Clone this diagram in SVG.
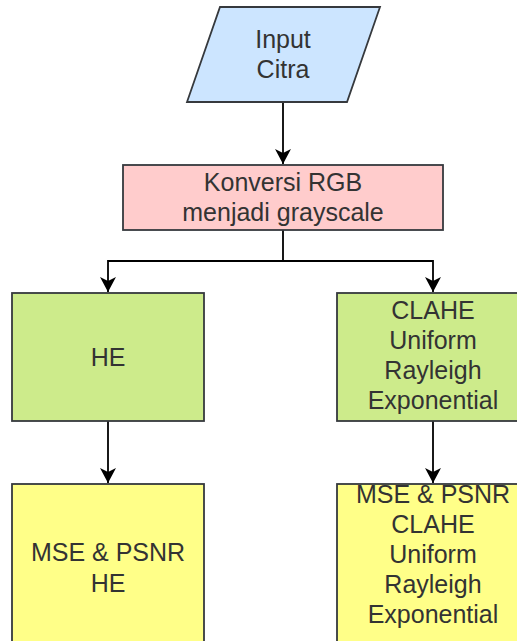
<svg xmlns="http://www.w3.org/2000/svg" width="517" height="641" viewBox="0 0 517 641">
<style>
.box{stroke:#36393d;stroke-width:1.8}
.t{font-family:"Liberation Sans",Arial,sans-serif;font-size:25px;fill:#333333;text-anchor:middle}
.c{fill:none;stroke:#000;stroke-width:1.8}
</style>
<defs>
<marker id="arr" viewBox="0 0 16 16" refX="15" refY="8" markerWidth="16" markerHeight="16" markerUnits="userSpaceOnUse" orient="auto">
<path d="M0,0 L15,8 L0,16 L4,8 Z" fill="#000"/>
</marker>
</defs>
<rect width="517" height="641" fill="#fff"/>
<g id="connectors">
<path class="c" d="M283,102 V164" marker-end="url(#arr)"/>
<path class="c" d="M283,230 V261 H108 V292" marker-end="url(#arr)"/>
<path class="c" d="M283,261 H433 V292" marker-end="url(#arr)"/>
<path class="c" d="M108,421 V483" marker-end="url(#arr)"/>
<path class="c" d="M433,421 V483" marker-end="url(#arr)"/>
</g>
<g id="input">
<polygon class="box" points="220,7 380,7 347,102 187,102" fill="#cce5ff"/>
<text class="t" x="283" y="48">Input</text>
<text class="t" x="283" y="78">Citra</text>
</g>
<g id="konversi">
<rect class="box" x="123" y="165" width="320" height="65" fill="#ffcccc"/>
<text class="t" x="283" y="191">Konversi RGB</text>
<text class="t" x="283" y="221">menjadi grayscale</text>
</g>
<g id="he">
<rect class="box" x="12" y="293" width="192" height="128" fill="#cdeb8b"/>
<text class="t" x="108" y="366">HE</text>
</g>
<g id="clahe">
<rect class="box" x="337" y="293" width="192" height="128" fill="#cdeb8b"/>
<text class="t" x="433" y="319">CLAHE</text>
<text class="t" x="433" y="349">Uniform</text>
<text class="t" x="433" y="379">Rayleigh</text>
<text class="t" x="433" y="409">Exponential</text>
</g>
<g id="mse-he">
<rect class="box" x="12" y="484" width="192" height="170" fill="#ffff88"/>
<text class="t" x="108" y="561">MSE &amp; PSNR</text>
<text class="t" x="108" y="592">HE</text>
</g>
<g id="mse-clahe">
<rect class="box" x="337" y="484" width="192" height="170" fill="#ffff88"/>
<text class="t" x="433" y="503">MSE &amp; PSNR</text>
<text class="t" x="433" y="533">CLAHE</text>
<text class="t" x="433" y="563">Uniform</text>
<text class="t" x="433" y="593">Rayleigh</text>
<text class="t" x="433" y="623">Exponential</text>
</g>
</svg>
